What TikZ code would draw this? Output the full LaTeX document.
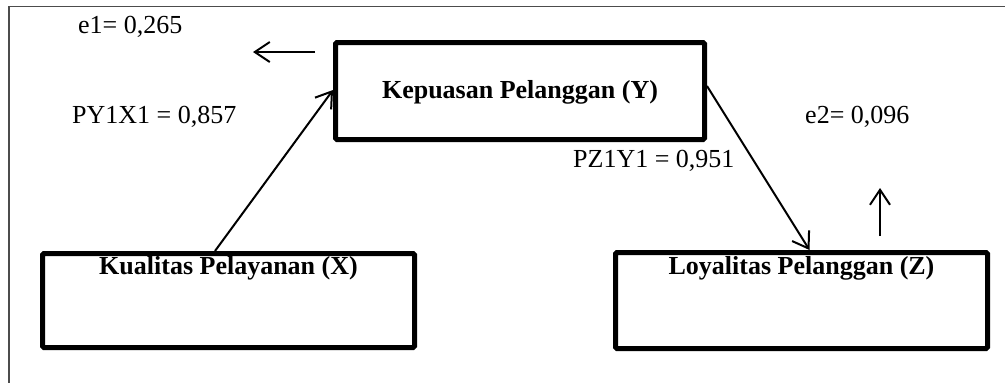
\documentclass[tikz,border=0pt]{standalone}
\usepackage{fontspec}
\setmainfont{Liberation Serif}
\usetikzlibrary{arrows.meta}
\tikzset{
  varbox/.style={draw=black, line width=5pt, rounded corners=1.5pt, fill=white, inner sep=0pt},
  boxtext/.style={font=\fontsize{26}{30}\selectfont\bfseries, inner sep=0pt, anchor=base},
  coef/.style={font=\fontsize{26}{30}\selectfont, inner sep=0pt, anchor=base west},
  arr/.style={draw=black, line width=2pt, -{Straight Barb[length=15pt,width=20pt,line width=2pt]}},
  frame/.style={draw=black!70, line width=1.8pt}
}
\begin{document}
\begin{tikzpicture}[x=1pt,y=-1pt]
\useasboundingbox (0,0) rectangle (1005,383);
\fill[white] (0,0) rectangle (1005,383);
\draw[frame] (9,383) -- (9,6.5) -- (1005,6.5);

% boxes
\node[varbox, minimum width=369pt, minimum height=97pt] (Y) at (520,91) {};
\node[varbox, minimum width=372pt, minimum height=94pt] (X) at (228.5,300.5) {};
\node[varbox, minimum width=372pt, minimum height=96pt] (Z) at (801.5,300.5) {};

\node[boxtext] (Ytext) at (520,98) {Kepuasan Pelanggan (Y)};
\node[boxtext] (Xtext) at (228.5,274) {Kualitas Pelayanan (X)};
\node[boxtext] (Ztext) at (801.5,274) {Loyalitas Pelanggan (Z)};

% coefficients
\node[coef] (e1) at (78,33) {e1= 0,265};
\node[coef] (pyx) at (72,123) {PY1X1 = 0,857};
\node[coef] (pzy) at (573,167) {PZ1Y1 = 0,951};
\node[coef] (e2) at (805,123) {e2= 0,096};

% error arrows
\coordinate (e1s) at (315,52);
\coordinate (e1t) at (253,52);
\coordinate (e2s) at (880,236);
\coordinate (e2t) at (880,188);
\draw[arr] (e1s) -- (e1t);
\draw[arr] (e2s) -- (e2t);

% path arrows
\draw[arr] ([xshift=-13.5pt]X.north) -- ([yshift=1pt]Y.west);
\draw[arr] ([yshift=5pt]Y.east) -- ([xshift=8pt]Z.north);
\end{tikzpicture}
\end{document}
